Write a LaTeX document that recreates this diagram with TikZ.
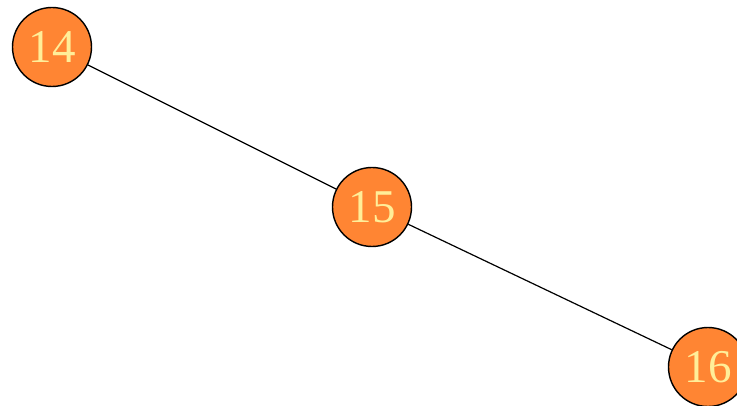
\documentclass[tikz,border=0pt]{standalone}
\usepackage{fontspec}
\setmainfont{Liberation Serif}
\definecolor{nodefill}{HTML}{FF8533}
\definecolor{nodetext}{HTML}{FFEE99}

\begin{document}
\begin{tikzpicture}[x=1pt, y=-1pt,
  treenode/.style={circle, draw=black, line width=1.4pt, fill=nodefill,
    text=nodetext, minimum size=79pt, inner sep=0pt,
    font=\fontsize{47}{47}\selectfont},
  treeedge/.style={line width=1.2pt}]
  \useasboundingbox (0,0) rectangle (737,406);

  % nodes
  \node[treenode] (n14) at (52,47)  {14};
  \node[treenode] (n15) at (372,207) {15};
  \node[treenode] (n16) at (708,367) {16};

  % edges
  \draw[treeedge] (n14) -- (n15);
  \draw[treeedge] (n15) -- (n16);
\end{tikzpicture}
\end{document}
